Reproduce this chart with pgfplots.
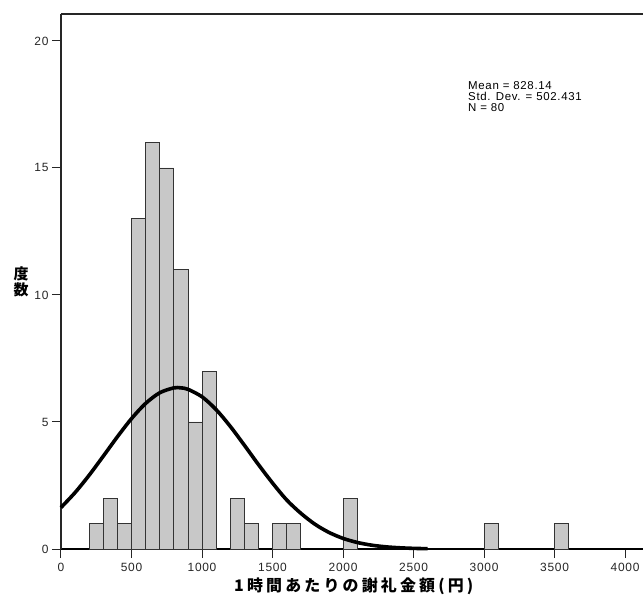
\documentclass[border=0pt]{standalone}
\usepackage{fontspec}
\setmainfont{Liberation Sans}[LetterSpace=6]
\newfontfamily\cjk{Noto Sans CJK JP}[LetterSpace=20]
\usepackage{pgfplots}
\pgfplotsset{compat=1.18}
\definecolor{barfill}{HTML}{C8C8C8}
\begin{document}
\begin{tikzpicture}
\begin{axis}[name=ax, scale only axis, width=582bp, height=535bp,
  xmin=0, xmax=4127, ymin=0, ymax=21.06,
  axis x line*=bottom, axis y line*=left,
  x axis line style={line width=2.6bp, black},
  y axis line style={line width=1.1bp, black!85},
  xtick={0,500,...,4000}, ytick={0,5,10,15,20},
  tick align=outside, major tick length=9bp,
  tick style={line width=1bp, black!85},
  /pgf/number format/assume math mode=true,
  /pgf/number format/1000 sep={},
  ticklabel style={font=\fontsize{12}{12}\selectfont, text=black!85},
  xticklabel style={yshift=-2bp},
  clip=false]
\addplot[ybar, bar width=100, bar shift=0pt, fill=barfill, draw=black!80, line width=0.8bp]
  coordinates {(250,1)(350,2)(450,1)(550,13)(650,16)(750,15)(850,11)(950,5)(1050,7)
               (1250,2)(1350,1)(1550,1)(1650,1)(2050,2)(3050,1)(3550,1)};
\addplot[smooth, line width=3.6bp, black] coordinates {
  (0,1.633)(100,2.223)(200,2.907)(300,3.656)(400,4.418)(500,5.132)(600,5.730)
  (700,6.149)(800,6.342)(850,6.343)(900,6.287)(1000,5.991)(1100,5.487)(1200,4.830)
  (1300,4.087)(1400,3.324)(1500,2.598)(1600,1.933)(1700,1.410)(1800,0.978)
  (1900,0.653)(2000,0.418)(2100,0.258)(2200,0.153)(2300,0.087)(2400,0.048)
  (2500,0.025)(2600,0.012)};
\draw[line width=1.1bp, black!85] (rel axis cs:0,1) -- (rel axis cs:1,1);
\node[anchor=north west, inner sep=0pt, align=left, font=\fontsize{11.5}{11}\selectfont]
  at (axis cs:2886,18.4) {Mean = 828.14\\Std. Dev. = 502.431\\N = 80};
\node[font=\cjk\bfseries\fontsize{16}{18}\selectfont, inner sep=0pt]
  at ([yshift=-37bp]rel axis cs:0.503,0) {1時間あたりの謝礼金額(円)};
\node[font=\cjk\bfseries\fontsize{15}{16}\selectfont, align=center, inner sep=0pt]
  at ([xshift=-40bp]rel axis cs:0,0.5) {度\\数};
\end{axis}
\pgfresetboundingbox
\path[use as bounding box] ([xshift=-61bp,yshift=-46bp]ax.south west) rectangle ([yshift=14bp]ax.north east);
\end{tikzpicture}
\end{document}
